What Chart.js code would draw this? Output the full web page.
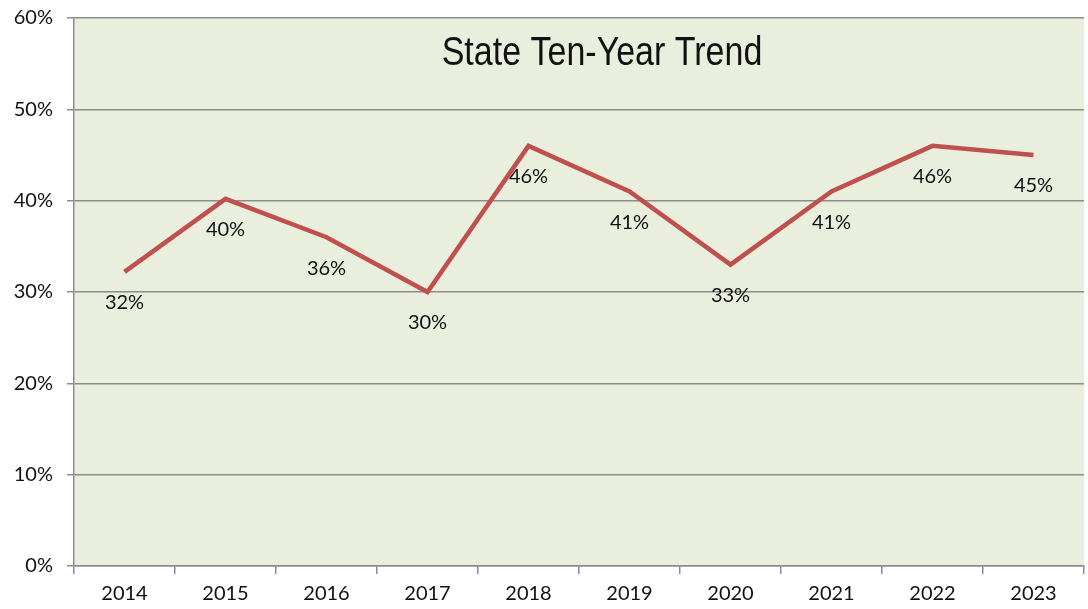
<!DOCTYPE html>
<html>
<head>
<meta charset="utf-8">
<script src="https://cdn.jsdelivr.net/npm/chart.js@4/dist/chart.umd.min.js"></script>
<style>
    html, body { margin: 0; padding: 0; background: #ffffff; }
    #wrap { width: 1088px; height: 609px; }
</style>
</head>
<body>
<div id="wrap"><canvas id="trendChart" width="1088" height="609"></canvas></div>
<script>
const years = ['2014', '2015', '2016', '2017', '2018', '2019', '2020', '2021', '2022', '2023'];
const stateRates = [32.2, 40.2, 36, 30, 46, 41, 33, 41, 46, 45];
const rateLabels = ['32%', '40%', '36%', '30%', '46%', '41%', '33%', '41%', '46%', '45%'];
const chartTitle = 'State Ten-Year Trend';

// fill the plot area and write the title inside it
const plotBackground = {
    id: 'plotBackground',
    beforeDraw(chart) {
        const { ctx, chartArea } = chart;
        ctx.save();
        ctx.fillStyle = '#eaeedd';
        ctx.fillRect(chartArea.left, chartArea.top, chartArea.right - chartArea.left, chartArea.bottom - chartArea.top);
        ctx.restore();
    },
    afterDraw(chart) {
        const { ctx } = chart;
        ctx.save();
        ctx.fillStyle = '#111111';
        ctx.font = '40px "Liberation Sans", Arial, sans-serif';
        ctx.textAlign = 'center';
        ctx.textBaseline = 'middle';
        // the title is set a bit condensed
        ctx.translate(602, 54);
        ctx.scale(0.85, 1);
        ctx.fillText(chartTitle, 0, 0);
        ctx.restore();
    }
};

const pointLabels = {
    id: 'pointLabels',
    afterDatasetsDraw(chart) {
        const { ctx } = chart;
        const meta = chart.getDatasetMeta(0);
        ctx.save();
        ctx.fillStyle = '#111111';
        ctx.font = '20px Lato, "Open Sans", sans-serif';
        ctx.textAlign = 'center';
        ctx.textBaseline = 'middle';
        meta.data.forEach((pt, i) => {
            ctx.fillText(rateLabels[i], pt.x, pt.y + 31);
        });
        ctx.restore();
    }
};

new Chart(document.getElementById('trendChart').getContext('2d'), {
    type: 'line',
    data: {
        labels: years,
        datasets: [{
            label: chartTitle,
            data: stateRates,
            borderColor: '#c0504d',
            borderWidth: 4.5,
            pointRadius: 0,
            tension: 0
        }]
    },
    options: {
        responsive: false,
        animation: false,
        layout: { padding: { top: 18, right: 4, left: 0, bottom: 0 } },
        plugins: {
            legend: { display: false },
            title: { display: false },
            tooltip: { enabled: false }
        },
        scales: {
            x: {
                offset: true,
                grid: {
                    offset: true,
                    drawOnChartArea: false,
                    drawTicks: true,
                    tickLength: 8,
                    color: '#8c8c8c',
                    lineWidth: 1.5
                },
                border: { color: '#8c8c8c', width: 1.5 },
                ticks: {
                    color: '#111111',
                    font: { family: 'Lato, "Open Sans", sans-serif', size: 20 },
                    padding: 8,
                    maxRotation: 0
                },
                afterFit(scale) { scale.height = 43; }
            },
            y: {
                min: 0,
                max: 60,
                ticks: {
                    stepSize: 10,
                    color: '#111111',
                    font: { family: 'Lato, "Open Sans", sans-serif', size: 20 },
                    padding: 14,
                    callback: v => v + '%'
                },
                grid: {
                    color: '#8c8c8c',
                    lineWidth: 1.5,
                    tickLength: 7
                },
                border: { color: '#8c8c8c', width: 1.5 },
                afterFit(scale) {
                    scale.width = 74;
                    scale.paddingTop = 0;
                    scale.paddingBottom = 0;
                }
            }
        }
    },
    plugins: [plotBackground, pointLabels]
});
</script>
</body>
</html>
